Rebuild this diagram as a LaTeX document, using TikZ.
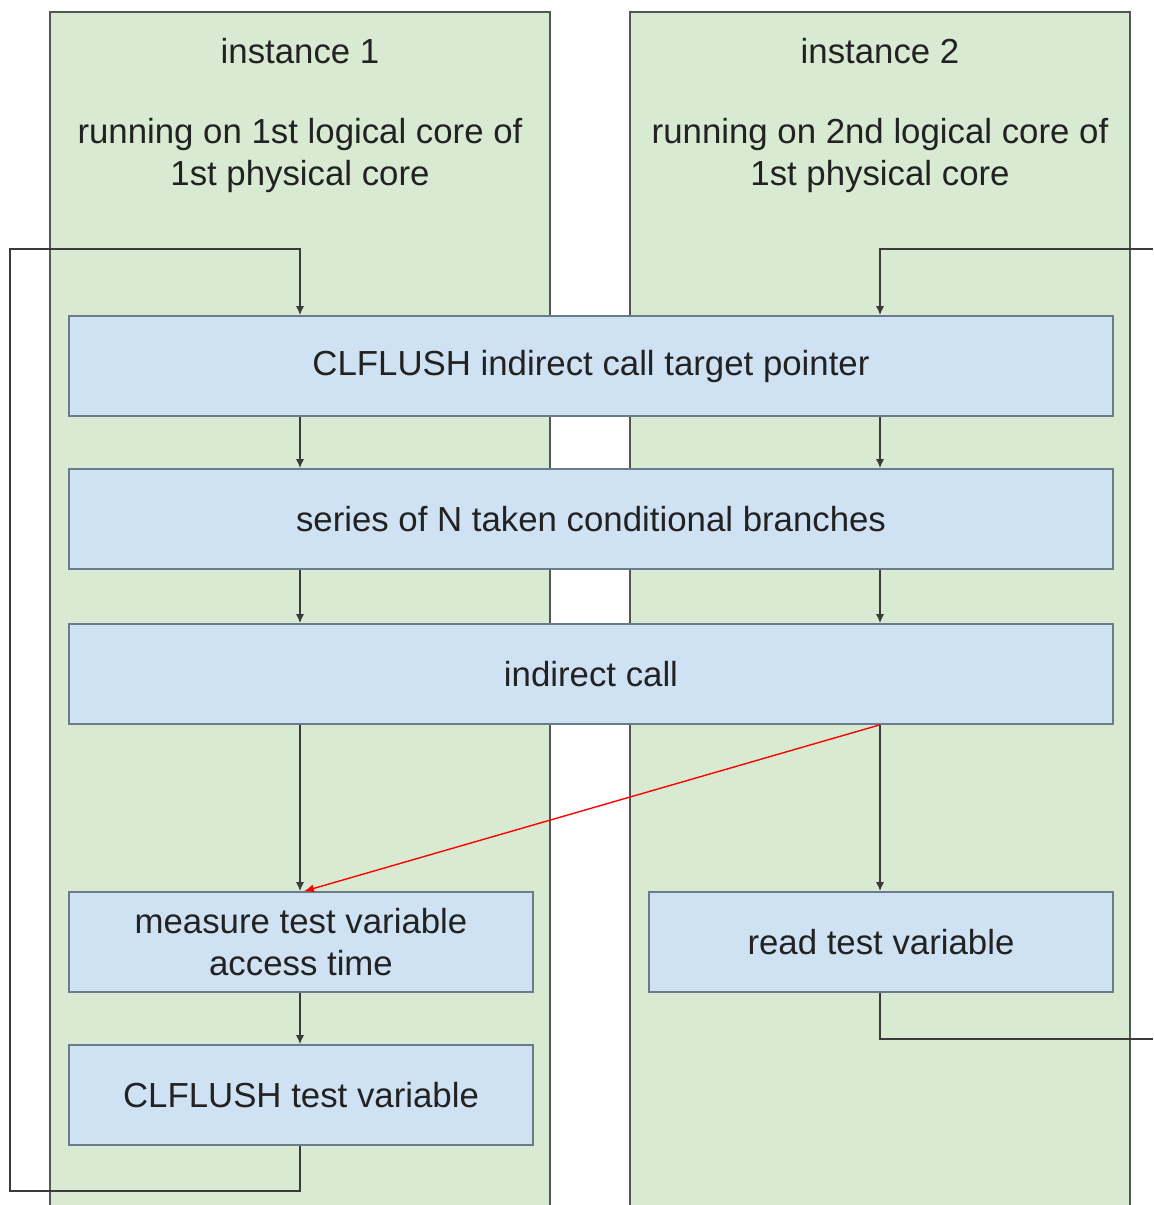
\documentclass[tikz,border=0pt]{standalone}
\usepackage{fontspec}
\setmainfont{Liberation Sans}
\usetikzlibrary{arrows.meta}
\definecolor{panelgreen}{HTML}{D9EAD3}
\definecolor{boxblue}{HTML}{CFE2F3}
\definecolor{panelline}{HTML}{555555}
\definecolor{boxline}{HTML}{6B7B8C}
\definecolor{conn}{HTML}{3A3A3A}
\definecolor{txt}{HTML}{222222}
\tikzset{
  stepbox/.style={draw=boxline, line width=0.8pt, fill=boxblue, inner sep=0pt,
    text=txt, align=center, font=\fontsize{17.4}{21}\selectfont, minimum height=50pt},
  widebox/.style={stepbox, minimum width=522pt},
  halfbox/.style={stepbox, minimum width=232pt},
  paneltext/.style={text=txt, align=center, font=\fontsize{17.4}{21}\selectfont},
  conn/.style={draw=conn, line width=0.7pt},
  arr/.style={conn, -{Latex[length=4.5pt,width=4pt]}},
  redarr/.style={draw=red, line width=0.7pt, -{Latex[length=5pt,width=4pt]}}
}
\begin{document}
\begin{tikzpicture}[x=0.5pt,y=-0.5pt]
\useasboundingbox (0,0) rectangle (1153,1205);
% panels
\fill[panelgreen] (50,12) rectangle (550,1205);
\fill[panelgreen] (630,12) rectangle (1130,1205);
\draw[panelline, line width=0.9pt] (50,1205) -- (50,12) -- (550,12) -- (550,1205);
\draw[panelline, line width=0.9pt] (630,1205) -- (630,12) -- (1130,12) -- (1130,1205);
\node[paneltext] (t1) at (300,51) {instance 1};
\node[paneltext] (s1) at (300,155) {running on 1st logical core of\\1st physical core};
\node[paneltext] (t2) at (880,51) {instance 2};
\node[paneltext] (s2) at (880,155) {running on 2nd logical core of\\1st physical core};
% boxes
\node[widebox] (b1) at (591,366) {\raisebox{-1.5pt}{CLFLUSH indirect call target pointer}};
\node[widebox] (b2) at (591,519) {\raisebox{-1pt}{series of N taken conditional branches}};
\node[widebox] (b3) at (591,674) {indirect call};
\node[halfbox] (b4) at (301,942) {measure test variable\\access time};
\node[halfbox] (b5) at (881,942) {read test variable};
\node[halfbox] (b6) at (301,1095) {CLFLUSH test variable};
% column coordinates
\coordinate (c1) at (300,0);
\coordinate (c2) at (880,0);
\coordinate (L1) at (10,1191);
\coordinate (L2) at (10,249);
\coordinate (R1) at (1153,249);
\coordinate (R2) at (1153,1039);
% connectors
\draw[arr] (b1.south -| c1) -- (b2.north -| c1);
\draw[arr] (b2.south -| c1) -- (b3.north -| c1);
\draw[arr] (b3.south -| c1) -- (b4.north -| c1);
\draw[arr] (b4.south -| c1) -- (b6.north -| c1);
\draw[arr] (b1.south -| c2) -- (b2.north -| c2);
\draw[arr] (b2.south -| c2) -- (b3.north -| c2);
\draw[arr] (b3.south -| c2) -- (b5.north -| c2);
\draw[arr] (b6.south -| c1) |- (L1) -- (L2) -| (b1.north -| c1);
\draw[arr] (R1) -| (b1.north -| c2);
\draw[conn] (b5.south -| c2) |- (R2);
\draw[redarr] (b3.south -| c2) -- ([xshift=1.5pt]b4.north);
\end{tikzpicture}
\end{document}
